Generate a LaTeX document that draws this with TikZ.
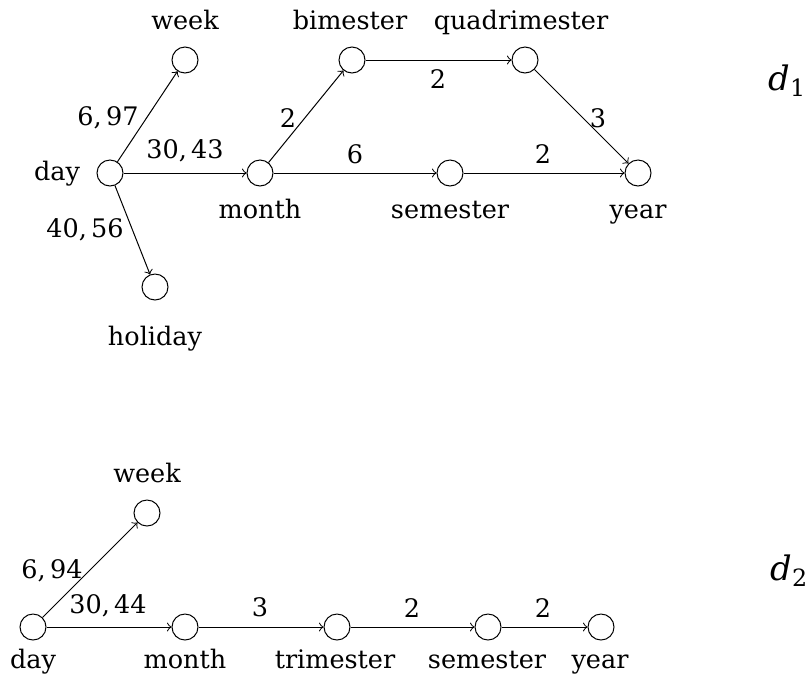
\documentclass[tikz,border=0pt]{standalone}
\usepackage{fontspec}
\setmainfont{DejaVu Serif}
\begin{document}
\begin{tikzpicture}[x=0.4pt,y=-0.4pt,
  vtx/.style={circle,draw,line width=0.4pt,minimum size=10.4pt,inner sep=0pt},
  arr/.style={->,line width=0.4pt},
  txt/.style={anchor=base,inner sep=0pt,font=\fontsize{10.2}{12}\selectfont},
  dlab/.style={anchor=base west,inner sep=0pt,font=\fontsize{13.5}{15}\selectfont}]
\useasboundingbox (0,0) rectangle (811,681);
% ---- d1 ----
\node[vtx] (day1) at (110,173) {};
\node[vtx] (week1) at (185,60) {};
\node[vtx] (hol1) at (155,287) {};
\node[vtx] (month1) at (260,173) {};
\node[vtx] (bim1) at (352,60) {};
\node[vtx] (quad1) at (525,60) {};
\node[vtx] (sem1) at (450,173) {};
\node[vtx] (year1) at (638,173) {};
\draw[arr] (day1) -- (week1);
\draw[arr] (day1) -- (month1);
\draw[arr] (day1) -- (hol1);
\draw[arr] (month1) -- (bim1);
\draw[arr] (month1) -- (sem1);
\draw[arr] (bim1) -- (quad1);
\draw[arr] (quad1) -- (year1);
\draw[arr] (sem1) -- (year1);
\node[txt] (tweek1) at (185,29) {week};
\node[txt] (tbim1) at (350,29) {bimester};
\node[txt] (tquad1) at (521,29) {quadrimester};
\node[txt] (tday1) at (57,180) {day};
\node[txt] (tmonth1) at (260,218) {month};
\node[txt] (tsem1) at (450,218) {semester};
\node[txt] (tyear1) at (638,218) {year};
\node[txt] (thol1) at (155,345) {holiday};
\node[txt] (l1) at (108,125) {6,\,97};
\node[txt] (l2) at (185,158) {30,\,43};
\node[txt] (l3) at (85,237) {40,\,56};
\node[txt] (l4) at (288,127) {2};
\node[txt] (l5) at (355,163) {6};
\node[txt] (l6) at (438,88) {2};
\node[txt] (l7) at (598,127) {3};
\node[txt] (l8) at (543,163) {2};
\node[dlab] (d1) at (768,90) {\textit{d}\raisebox{-0.35ex}{\fontsize{9.5}{11}\selectfont 1}};
% ---- d2 ----
\node[vtx] (day2) at (33,627) {};
\node[vtx] (week2) at (147,513) {};
\node[vtx] (month2) at (185,627) {};
\node[vtx] (tri2) at (337,627) {};
\node[vtx] (sem2) at (488,627) {};
\node[vtx] (year2) at (601,627) {};
\draw[arr] (day2) -- (week2);
\draw[arr] (day2) -- (month2);
\draw[arr] (month2) -- (tri2);
\draw[arr] (tri2) -- (sem2);
\draw[arr] (sem2) -- (year2);
\node[txt] (tweek2) at (147,482) {week};
\node[txt] (tday2) at (33,668) {day};
\node[txt] (tmonth2) at (185,668) {month};
\node[txt] (ttri2) at (335,668) {trimester};
\node[txt] (tsem2) at (487,668) {semester};
\node[txt] (tyear2) at (600,668) {year};
\node[txt] (m1) at (52,578) {6,\,94};
\node[txt] (m2) at (108,613) {30,\,44};
\node[txt] (m3) at (260,616) {3};
\node[txt] (m4) at (412,617) {2};
\node[txt] (m5) at (543,617) {2};
\node[dlab] (d2) at (770,580) {\textit{d}\raisebox{-0.35ex}{\fontsize{9.5}{11}\selectfont 2}};
\end{tikzpicture}
\end{document}
